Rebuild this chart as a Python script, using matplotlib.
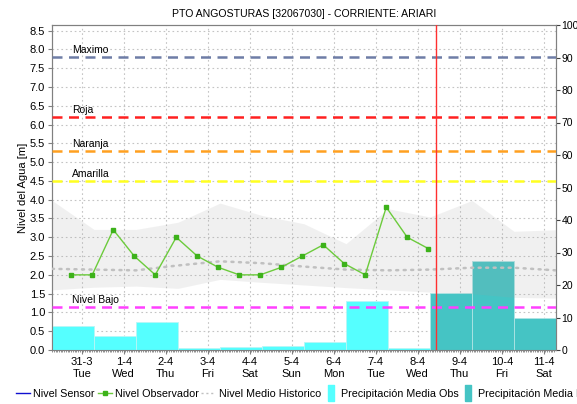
import numpy as np
import matplotlib.pyplot as plt
from matplotlib.lines import Line2D
from matplotlib.ticker import MultipleLocator

plt.rcParams['font.family'] = ['Liberation Sans', 'DejaVu Sans']

# dias del eje x (0 = 31-3 00:00)
dias = ['31-3', '1-4', '2-4', '3-4', '4-4', '5-4', '6-4', '7-4', '8-4', '9-4', '10-4', '11-4']
semana = ['Tue', 'Wed', 'Thu', 'Fri', 'Sat', 'Sun', 'Mon', 'Tue', 'Wed', 'Thu', 'Fri', 'Sat']

# lecturas del observador (06:00 y 18:00)
obs_horas = [-6, 6, 18, 30, 42, 54, 66, 78, 90, 102, 114, 126, 138, 150, 162, 174, 186, 198]
obs_nivel = [2.0, 2.0, 3.2, 2.5, 2.0, 3.0, 2.5, 2.2, 2.0, 2.0, 2.2, 2.5, 2.8, 2.3, 2.0, 3.8, 3.0, 2.7]

# historico diario (07:00)
hist_horas = [-17, 7, 31, 55, 79, 103, 127, 151, 175, 199, 223, 247, 271]
hist_max = [3.98, 3.21, 3.21, 3.40, 3.91, 3.58, 3.36, 2.83, 3.76, 3.54, 3.98, 3.16, 3.20]
hist_min = [1.60, 1.67, 1.70, 1.64, 1.88, 1.80, 1.73, 1.66, 1.60, 1.54, 1.50, 1.40, 1.38]
hist_medio = [2.16, 2.14, 2.12, 2.25, 2.36, 2.31, 2.22, 2.14, 2.12, 2.14, 2.19, 2.19, 2.12]

# precipitacion diaria [mm]
prec_obs = [7.3, 4.2, 8.7, 0.5, 0.8, 1.1, 2.6, 15.0, 0.5]
prec_pron = [17.5, 27.3, 9.9]

# umbrales [m]
umbral_nombre = ['Maximo', 'Roja', 'Naranja', 'Amarilla', 'Nivel Bajo']
umbral_valor = [7.8, 6.2, 5.3, 4.5, 1.15]
umbral_color = ['#6E7DA6', '#FF2020', '#FFA020', '#FFFF20', '#FF40FF']

hora_actual = 202.3

t_obs = np.array(obs_horas) / 24
t_hist = np.array(hist_horas) / 24
t_ini = t_hist[:-1]

fig = plt.figure(figsize=(5.77, 4.04), dpi=100)
ax = fig.add_axes([52 / 577, 1 - 350 / 404, 504 / 577, 325 / 404])
ax2 = ax.twinx()
ax3 = fig.add_axes(ax.get_position(), sharex=ax, sharey=ax)
ax3.set_axis_off()

ax.set_xlim(t_hist[0], t_hist[-1])
ax.set_ylim(0, 8.65)
ax2.set_ylim(0, 100)

# grilla
ax.grid(True, which='major', ls=(0, (1.5, 2.5)), color='#C4C4C4', lw=0.8)
ax.yaxis.set_major_locator(MultipleLocator(0.5))
ax.set_yticks(np.arange(0, 8.51, 0.5))
ax.set_yticklabels([f'{v:.1f}' for v in np.arange(0, 8.51, 0.5)], fontsize=8)
ax.set_xticks(range(len(dias)))
ax.set_xticklabels([f'{d}\n{s}' for d, s in zip(dias, semana)], fontsize=8)
ax.set_xticks(np.arange(t_hist[0], t_hist[-1], 1 / 24), minor=True)
ax.tick_params(axis='x', which='minor', length=1.5, color='#808080')
ax.tick_params(axis='both', which='major', length=3, color='#808080', pad=2)
ax2.set_yticks(range(0, 101, 10))
ax2.set_yticklabels([str(v) for v in range(0, 101, 10)], fontsize=7.5)
ax2.tick_params(axis='y', length=3, color='#404040', pad=0.8)
for a in (ax, ax2):
    for s in a.spines.values():
        s.set_color('#808080')
        s.set_linewidth(0.8)

# barras de precipitacion
ax2.bar(t_ini[:len(prec_obs)], prec_obs, width=1, align='edge',
        color='#55FFFF', edgecolor='#B8F6F6', lw=0.6)
ax2.bar(t_ini[len(prec_obs):], prec_pron, width=1, align='edge',
        color='#45C4C4', edgecolor='#B0E4E4', lw=0.6)

# banda historica y nivel medio
ax3.fill_between(t_hist, hist_min, hist_max, color='#A0A0A0', alpha=0.15, lw=0)
ax3.plot(t_hist, hist_medio, color='#C0C0C0', lw=1.8, ls=(0, (0.8, 2.2)),
         dash_capstyle='round')

# umbrales
for nombre, v, c in zip(umbral_nombre, umbral_valor, umbral_color):
    ax3.axhline(v, color=c, lw=1.8, ls=(0, (4, 2.6)))
    ax3.text(0.04, v + 0.06, nombre, transform=ax3.get_yaxis_transform(),
             fontsize=7.5, va='bottom', ha='left')

ax3.plot(t_obs, obs_nivel, color='#6CCB3C', lw=1, marker='s', ms=3,
         mfc='#3DB21A', mec='#3DB21A')
ax3.axvline(hora_actual / 24, color='#FF3030', lw=1)

ax.set_title('PTO ANGOSTURAS [32067030] - CORRIENTE: ARIARI', fontsize=7.6, pad=6)
ax.set_ylabel('Nivel del Agua [m]', fontsize=8, labelpad=1)

barra = [(-0.35, -1), (0.35, -1), (0.35, 1), (-0.35, 1), (-0.35, -1)]
handles = [
    Line2D([], [], color='#1010D0', lw=1),
    Line2D([], [], color='#6CCB3C', lw=1, marker='s', ms=3, mfc='#3DB21A', mec='#3DB21A'),
    Line2D([], [], color='#C0C0C0', lw=1, ls=(0, (1.5, 2))),
    Line2D([], [], ls='none', marker=barra, ms=11, color='#55FFFF'),
    Line2D([], [], ls='none', marker=barra, ms=11, color='#45C4C4'),
]
labels = ['Nivel Sensor', 'Nivel Observador', 'Nivel Medio Historico',
          'Precipitación Media Obs', 'Precipitación Media Pronosticada']
fig.legend(handles, labels, loc='center left', bbox_to_anchor=(0.028, 1 - 394 / 404),
           ncol=5, frameon=False, fontsize=7.75, handlelength=1.3, handletextpad=0.3,
           columnspacing=0.25, borderaxespad=0, borderpad=0)

fig.savefig('out.png', dpi=100)
